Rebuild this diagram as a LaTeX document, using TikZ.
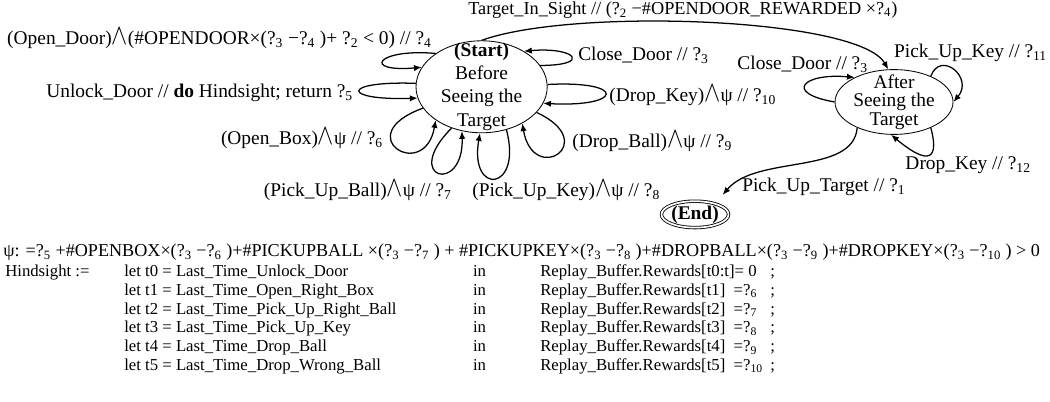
\documentclass[tikz,border=0pt]{standalone}
\usepackage{fontspec}
\setmainfont{Liberation Serif}
\usetikzlibrary{shapes.geometric}
\usetikzlibrary{arrows.meta}
\newcommand{\diagfont}{\fontsize{13.8}{16.4}\selectfont}
\newcommand{\notefont}{\fontsize{11.9}{14}\selectfont}
\newcommand{\rw}[1]{?\textsubscript{#1}} % reward placeholder
\newcommand{\andsym}{\scalebox{1.2}[1.45]{$\wedge$}}
\newcommand{\hsrow}[4] % name, y in cm, let binding, reward update
{
	\node[row] (let#1) at (3.1,#2) {#3};
	\node[row] (in#1) at (11.82,#2) {in};
	\node[row] (rew#1) at (13.5,#2) {#4};
	\node[row] (semi#1) at (19.25,#2) {;};
}

\begin{document}
\begin{tikzpicture}[
	stnode/.style={ellipse, draw, line width=0.6pt, inner sep=0pt, align=center, font=\diagfont},
	trans/.style={-{Latex[length=5.5pt,width=4.5pt]}, line width=0.9pt},
	lbl/.style={inner sep=0pt, font=\diagfont},
	row/.style={anchor=west, inner sep=0pt, font=\notefont, text height=8pt, text depth=2.5pt}]
	\useasboundingbox (0,0) rectangle (26.25,10.05);

	% states
	\node[stnode, minimum width=3.28cm, minimum height=2.3cm, inner ysep=-12pt] (start) at (12.04,7.88) {\textbf{(Start)}\\Before\\Seeing the\\Target};
	\node[stnode, minimum width=2.95cm, minimum height=1.62cm, inner ysep=-6pt, font=\fontsize{13.8}{13}\selectfont] (after) at (22.35,7.5) {After\\Seeing the\\Target};
	\node[stnode, double, double distance=1.2pt, minimum width=1.66cm, minimum height=0.66cm] (end) at (17.375,4.69) {\textbf{(End)}};

	% labels round the start state
	\node[lbl, anchor=east] (l4) at (10.8,9.1) {(Open\_Door)\andsym(\#OPENDOOR×(\rw{3} −\rw{4} )+ \rw{2} < 0) // \rw{4}};
	\node[lbl, anchor=east] (l5) at (8.83,7.725) {Unlock\_Door // \textbf{do} Hindsight; return \rw{5}};
	\node[lbl, anchor=east] (l6) at (9.58,6.6) {(Open\_Box)\andsym ψ // \rw{6}};
	\node[lbl, anchor=east] (l7) at (11.3,5.3) {(Pick\_Up\_Ball)\andsym ψ // \rw{7}};
	\node[lbl, anchor=west] (l8) at (11.8,5.3) {(Pick\_Up\_Key)\andsym ψ // \rw{8}};
	\node[lbl, anchor=west] (l9) at (14.3,6.525) {(Drop\_Ball)\andsym ψ // \rw{9}};
	\node[lbl, anchor=west] (l10) at (15.23,7.675) {(Drop\_Key)\andsym ψ // \rw{10}};
	\node[lbl, anchor=west] (l3) at (14.45,8.675) {Close\_Door // \rw{3}};
	\node[lbl, anchor=west, font=\fontsize{13}{15}\selectfont] (ltop) at (11.7,9.8) {Target\_In\_Sight // (\rw{2} −\#OPENDOOR\_REWARDED ×\rw{4})};

	% labels round the after state
	\node[lbl, anchor=west] (la3) at (18.43,8.45) {Close\_Door // \rw{3}};
	\node[lbl, anchor=east] (l11) at (26.18,8.725) {Pick\_Up\_Key // \rw{11}};
	\node[lbl, anchor=west] (l12) at (22.63,5.925) {Drop\_Key // \rw{12}};
	\node[lbl, anchor=west] (l1) at (18.55,5.375) {Pick\_Up\_Target // \rw{1}};

	% self loops on start
	\draw[trans] (start.144) .. controls +(175:1.5) and +(185:1.5) .. (start.162);
	\draw[trans] (start.177) .. controls +(178:1.9) and +(182:1.9) .. (start.190);
	\draw[trans] (start.200) .. controls +(200:2) and +(260:1.6) .. (start.216);
	\draw[trans] (start.234) .. controls +(225:1.8) and +(272:1.6) .. (start.246);
	\draw[trans] (start.300) .. controls +(285:1.6) and +(260:1.6) .. (start.268);
	\draw[trans] (start.335) .. controls +(335:1.8) and +(280:1.6) .. (start.318);
	\draw[trans] (start.2) .. controls +(3:2) and +(-3:2) .. (start.345);
	\draw[trans] (start.20) .. controls +(0:1.3) and +(5:1.3) .. (start.40);

	% start -> after, loops on after, after -> end
	\draw[trans] (start.north) .. controls +(20:2.4) and +(120:1.5) .. (after.100);
	\draw[trans] (after.180) .. controls +(170:1.3) and +(175:1.3) .. (after.148);
	\draw[trans] (after.35) .. controls +(70:0.7) and +(50:0.8) .. (after.0);
	\draw[trans] (after.325) .. controls +(285:1) and +(320:1) .. (after.265);
	\draw[trans, shorten >=8pt] (after.215) .. controls +(265:1.2) and +(50:1.6) .. (end.28);

	% definitions under the diagram
	\node[row, font=\fontsize{12.9}{14}\selectfont] (psi) at (0.075,3.725) {ψ: =\rw{5} +\#OPENBOX×(\rw{3} −\rw{6} )+\#PICKUPBALL ×(\rw{3} −\rw{7} ) + \#PICKUPKEY×(\rw{3} −\rw{8} )+\#DROPBALL×(\rw{3} −\rw{9} )+\#DROPKEY×(\rw{3} −\rw{10} ) > 0};
	\node[row] (hs) at (0.125,3.225) {Hindsight :=};
	\hsrow{0}{3.225}{let t0 = Last\_Time\_Unlock\_Door}{Replay\_Buffer.Rewards[t0:t]= 0}
	\hsrow{1}{2.76}{let t1 = Last\_Time\_Open\_Right\_Box}{Replay\_Buffer.Rewards[t1] \ =\rw{6}}
	\hsrow{2}{2.29}{let t2 = Last\_Time\_Pick\_Up\_Right\_Ball}{Replay\_Buffer.Rewards[t2] \ =\rw{7}}
	\hsrow{3}{1.825}{let t3 = Last\_Time\_Pick\_Up\_Key}{Replay\_Buffer.Rewards[t3] \ =\rw{8}}
	\hsrow{4}{1.35}{let t4 = Last\_Time\_Drop\_Ball}{Replay\_Buffer.Rewards[t4] \ =\rw{9}}
	\hsrow{5}{0.89}{let t5 = Last\_Time\_Drop\_Wrong\_Ball}{Replay\_Buffer.Rewards[t5] \ =\rw{10}}
\end{tikzpicture}
\end{document}
